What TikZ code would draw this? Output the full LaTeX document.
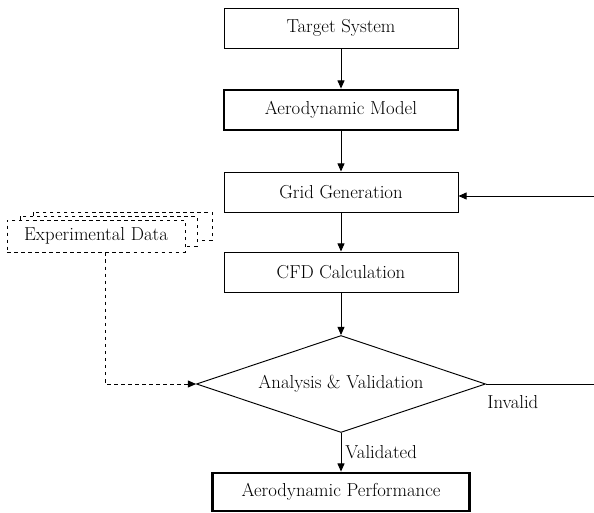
\documentclass[tikz,border=0pt]{standalone}
\usetikzlibrary{shapes.geometric,arrows.meta}
\begin{document}
\begin{tikzpicture}[x=0.03cm,y=-0.03cm,
    every node/.style={font=\fontsize{16}{18}\selectfont},
    stage/.style={draw,line width=0.8pt,minimum width=7.02cm,minimum height=1.2cm,inner sep=0pt},
    keystage/.style={stage,line width=2.4pt},
    arr/.style={-{Triangle[length=7pt,width=6pt]},line width=0.8pt}]
  \useasboundingbox (0,0) rectangle (594,513);
  % main chain
  \node[stage] (target) at (341,28) {Target System};
  \node[keystage] (model) at (341,110) {Aerodynamic Model};
  \node[stage] (grid) at (341,192) {Grid Generation};
  \node[stage] (cfd) at (341,272) {CFD Calculation};
  \node[draw,diamond,aspect=2.98,line width=0.8pt,minimum width=8.67cm,minimum height=2.91cm,inner sep=0pt] (check) at (341,384) {Analysis \& Validation};
  \node[keystage,minimum width=7.71cm,minimum height=1.14cm] (perf) at (341,492) {Aerodynamic Performance};
  \draw[arr] (target) -- (model);
  \draw[arr] (model) -- (grid);
  \draw[arr] (grid) -- (cfd);
  \draw[arr] (cfd) -- (check);
  \draw[arr] (check) -- node[right] {Validated} (perf);
  % experimental data stack
  \draw[dashed,line width=0.8pt] (33,212) rectangle (212,240);
  \draw[dashed,line width=0.8pt,fill=white] (20,216) rectangle (197,246);
  \node[draw,dashed,line width=0.8pt,fill=white,minimum width=5.34cm,minimum height=0.96cm,inner sep=0pt] (exp) at (96,236) {Experimental Data};
  \draw[arr,dashed] ([xshift=0.27cm]exp.south) |- (check.west);
  % loop back
  \coordinate (loopout) at (594,384);
  \coordinate (loopin) at (594,196);
  \draw[line width=0.8pt] (check.east) -- (loopout);
  \node[anchor=north west,inner sep=1pt] (invalid) at ([yshift=-0.3cm]check.east) {Invalid};
  \draw[arr] (loopin) -- (loopin -| grid.east);
\end{tikzpicture}
\end{document}
